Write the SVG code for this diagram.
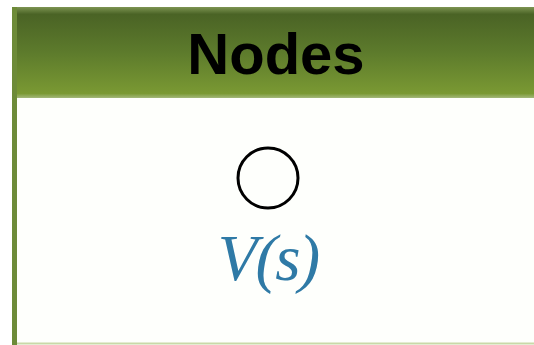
<svg xmlns="http://www.w3.org/2000/svg" width="534" height="345" viewBox="0 0 534 345">
<style>
.title{font-family:"Liberation Sans",Arial,sans-serif;font-weight:bold;font-size:58px;fill:#000;}
.node{fill:none;stroke:#000;stroke-width:3;}
.math{font-family:"Liberation Serif";font-style:italic;font-size:65px;fill:#2f7aa6;}
</style>
<defs>
<linearGradient id="hdr" x1="0" y1="0" x2="0" y2="1">
<stop offset="0" stop-color="#7d9452"/>
<stop offset="0.08" stop-color="#4a6325"/>
<stop offset="0.5" stop-color="#5d7b2c"/>
<stop offset="0.95" stop-color="#7a9933"/>
<stop offset="1" stop-color="#a3b87a"/>
</linearGradient>
</defs>
<rect x="0" y="0" width="534" height="345" fill="#ffffff"/>
<g id="panel">
<rect x="14" y="98" width="520" height="245" fill="#fefffc"/>
<line x1="14" y1="343.5" x2="534" y2="343.5" stroke="#c9d9a8" stroke-width="2"/>
<rect x="12" y="7" width="522" height="91" fill="url(#hdr)"/>
<rect x="12" y="7" width="5" height="338" fill="#6d8b38"/>
<text class="title" x="276" y="74" text-anchor="middle">Nodes</text>
</g>
<g id="node-V">
<circle class="node" cx="268" cy="178" r="30"/>
<text class="math" x="268" y="280" text-anchor="middle" letter-spacing="-2">V(s)</text>
</g>
<g id="connectors"></g>
</svg>
